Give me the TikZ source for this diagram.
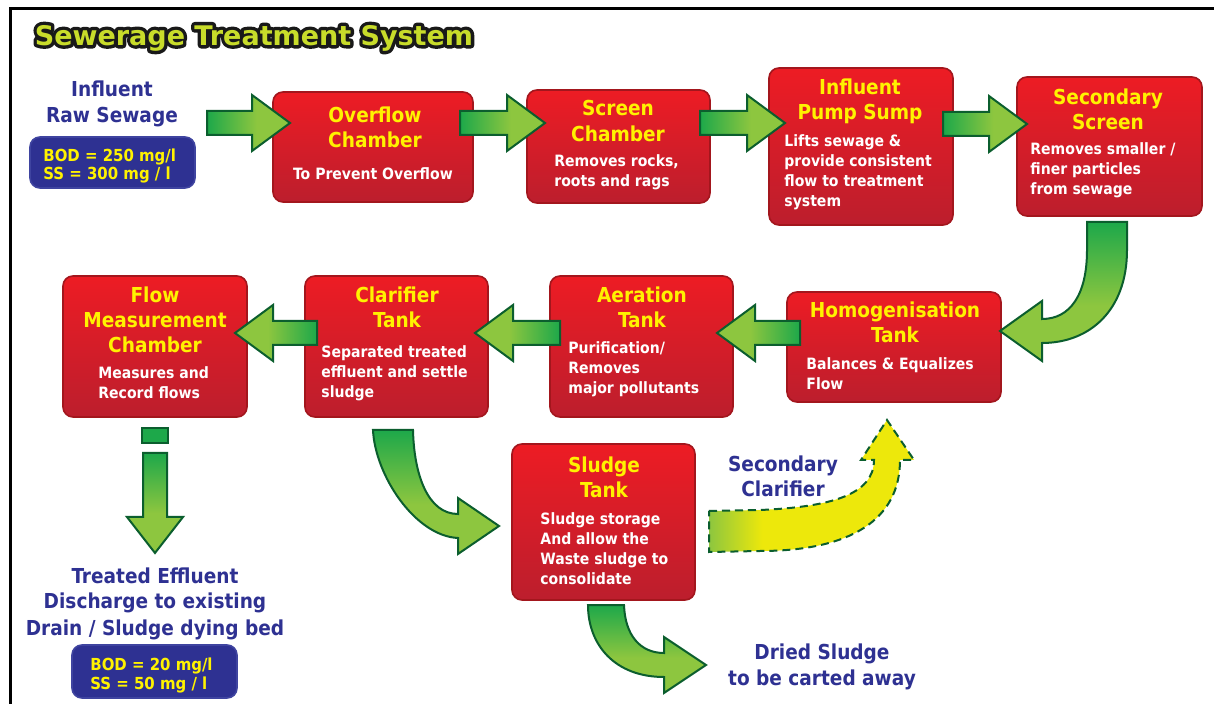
\documentclass[tikz,border=0pt]{standalone}
\usepackage{fontspec}
\setmainfont{DejaVu Sans Condensed}
\newfontfamily\ttlfont{DejaVu Sans}
\usetikzlibrary{fit}
\definecolor{boxtop}{HTML}{ED1C24}
\definecolor{boxbot}{HTML}{BC1E2D}
\definecolor{boxline}{HTML}{A3161D}
\definecolor{ttlyel}{HTML}{FFF200}
\definecolor{navy}{HTML}{2E3192}
\definecolor{navyline}{HTML}{3F44A0}
\definecolor{dg}{HTML}{1DA84A}
\definecolor{lg}{HTML}{8DC63F}
\definecolor{gline}{HTML}{0B5E2E}
\definecolor{yel}{HTML}{EDE80B}
\definecolor{titlegreen}{HTML}{C8DC2A}
\pgfdeclarehorizontalshading{garR}{100bp}{color(0bp)=(dg); color(25bp)=(dg); color(55bp)=(lg); color(100bp)=(lg)}
\pgfdeclarehorizontalshading{garL}{100bp}{color(0bp)=(lg); color(45bp)=(lg); color(75bp)=(dg); color(100bp)=(dg)}
\pgfdeclareverticalshading{garD}{100bp}{color(0bp)=(lg); color(45bp)=(lg); color(75bp)=(dg); color(100bp)=(dg)}
\pgfdeclarehorizontalshading{gyel}{100bp}{color(0bp)=(lg); color(25bp)=(lg); color(38bp)=(yel); color(100bp)=(yel)}
\newcommand\mlines[6]{\foreach \ln [count=\i from 0] in {#6} {\node[#2, name=#1\i] at (#3,{#4+\i*#5}) {\ln};}}
\newcommand\rarr[3]{\path[garrow, shading=garR] ({#1},{#3-12}) -- ({#2-38},{#3-12}) -- ({#2-38},{#3-28}) -- ({#2},{#3}) -- ({#2-38},{#3+28}) -- ({#2-38},{#3+12}) -- ({#1},{#3+12}) -- cycle;}
\newcommand\larr[3]{\path[garrow, shading=garL] ({#1},{#3-12}) -- ({#2+38},{#3-12}) -- ({#2+38},{#3-28}) -- ({#2},{#3}) -- ({#2+38},{#3+28}) -- ({#2+38},{#3+12}) -- ({#1},{#3+12}) -- cycle;}
\newcommand\strokedtext[2]{\special{pdf:literal direct 1 Tr #1 w 1 j 0.1 0.1 0.1 RG}#2\special{pdf:literal direct 0 Tr}}
\begin{document}
\begin{tikzpicture}[x=0.5pt,y=-0.5pt,
  font=\bfseries,
  rbox/.style={draw=boxline, line width=0.8pt, rounded corners=5pt, top color=boxtop, bottom color=boxbot, inner sep=0pt},
  bbox/.style={draw=navyline, line width=0.8pt, rounded corners=5pt, fill=navy, inner sep=0pt},
  ttl/.style={font=\bfseries\fontsize{10.3}{12}\selectfont, text=ttlyel, inner sep=0pt, anchor=base},
  desc/.style={font=\bfseries\fontsize{7.8}{9}\selectfont, text=white, inner sep=0pt, anchor=base west},
  descc/.style={desc, anchor=base},
  lbl/.style={font=\bfseries\fontsize{10.3}{12}\selectfont, text=navy, inner sep=0pt, anchor=base},
  bxt/.style={font=\bfseries\fontsize{8.3}{9}\selectfont, text=ttlyel, inner sep=0pt, anchor=base west},
  ttlbig/.style={font=\ttlfont\bfseries\fontsize{13.5}{15}\selectfont, inner sep=0pt, anchor=center},
  garrow/.style={shade, draw=gline, line width=1pt, line join=miter},
]
\useasboundingbox (0,0) rectangle (1214,704);
\fill[white] (0,0) rectangle (1214,704);
\draw[line width=1.5pt] (10,704) -- (10,8.5) -- (1214,8.5);

% title
\node[ttlbig, text=titlegreen] (title) at (254,38) {\rlap{\strokedtext{3.4}{Sewerage Treatment System}}Sewerage Treatment System};

% boxes
\node[rbox, fit={(273,92) (473,202)}] (ov) {};
\node[rbox, fit={(527,90) (710,203)}] (sc) {};
\node[rbox, fit={(769,68) (953,225)}] (ps) {};
\node[rbox, fit={(1017,77) (1202,216)}] (ss) {};
\node[rbox, fit={(63,276) (247,417)}] (fm) {};
\node[rbox, fit={(305,276) (488,417)}] (cl) {};
\node[rbox, fit={(550,276) (733,417)}] (ae) {};
\node[rbox, fit={(787,292) (1001,402)}] (ho) {};
\node[rbox, fit={(512,444) (695,600)}] (sl) {};
\node[bbox, fit={(30,137) (195,188)}] (bin) {};
\node[bbox, fit={(72,645) (237,698)}] (bout) {};

% straight arrows
\rarr{207}{290}{123}
\rarr{460}{545}{123}
\rarr{700}{785}{123}
\rarr{943}{1027}{124}
\larr{800}{717}{333}
\larr{560}{475}{333}
\larr{317}{235}{333}
\path[draw=gline, line width=1pt, fill=dg] (142,428) rectangle (168,443);
\path[garrow, shading=garD] (143,453) -- (167,453) -- (167,517) -- (183,517) -- (155,553) -- (127,517) -- (143,517) -- cycle;

% curved arrows
\path[garrow, shading=garD] (1087,222) -- (1127,222) -- (1127,250) .. controls (1127,310) and (1090,343) .. (1042,343) -- (1042,361) -- (1000,331) -- (1042,301) -- (1042,319) .. controls (1070,319) and (1087,295) .. (1087,250) -- cycle;
\path[garrow, shading=garD] (373,430) -- (413,430) .. controls (414,475) and (428,514) .. (458,514) -- (458,498) -- (499,526) -- (458,554) -- (458,538) .. controls (415,536) and (375,475) .. (373,430) -- cycle;
\path[garrow, shading=garD] (588,605) -- (624,605) .. controls (625,635) and (640,653) .. (664,653) -- (664,637) -- (706,665) -- (664,693) -- (664,677) .. controls (615,677) and (588,645) .. (588,605) -- cycle;
\path[shade, shading=gyel, draw=gline, line width=1pt, dash pattern=on 4pt off 2.5pt] (709,511) -- (760,510) .. controls (830,507) and (874,495) .. (874,460) -- (861,460) -- (887,420) -- (914,460) -- (900,460) .. controls (900,520) and (850,551) .. (760,551) -- (709,552) -- cycle;

% box texts
\mlines{ovt}{ttl}{375}{123}{25}{Overflow,Chamber}
\node[descc] (ovd) at (373,180) {To Prevent Overflow};
\mlines{sct}{ttl}{618}{116}{26}{Screen,Chamber}
\mlines{scd}{desc}{554}{167}{20}{{Removes rocks,},roots and rags}
\mlines{pst}{ttl}{860}{95}{25}{Influent,Pump Sump}
\mlines{psd}{desc}{784}{147}{20}{Lifts sewage \&,provide consistent,flow to treatment,system}
\mlines{sst}{ttl}{1108}{105}{25}{Secondary,Screen}
\mlines{ssd}{desc}{1030}{155}{20}{Removes smaller /,finer particles,from sewage}
\mlines{fmt}{ttl}{155}{303}{25}{Flow,Measurement,Chamber}
\mlines{fmd}{desc}{98}{379}{20}{Measures and,Record flows}
\mlines{clt}{ttl}{397}{303}{25}{Clarifier,Tank}
\mlines{cld}{desc}{321}{358}{20}{Separated treated,effluent and settle,sludge}
\mlines{aet}{ttl}{642}{303}{25}{Aeration,Tank}
\mlines{aed}{desc}{568}{354}{20}{Purification/,Removes,major pollutants}
\mlines{hot}{ttl}{895}{318}{25}{Homogenisation,Tank}
\mlines{hod}{desc}{806}{370}{20}{Balances \& Equalizes,Flow}
\mlines{slt}{ttl}{604}{473}{25}{Sludge,Tank}
\mlines{sld}{desc}{540}{525}{20}{Sludge storage,And allow the,Waste sludge to,consolidate}

% labels
\mlines{inl}{lbl}{112}{97}{26}{Influent,Raw Sewage}
\mlines{inb}{bxt}{43}{162}{18}{BOD = 250 mg/l,SS = 300 mg / l}
\mlines{tel}{lbl}{155}{583}{26}{Treated Effluent,Discharge to existing,Drain / Sludge dying bed}
\mlines{teb}{bxt}{90}{670}{19}{BOD = 20 mg/l,SS = 50 mg / l}
\mlines{scl}{lbl}{783}{472}{25}{Secondary,Clarifier}
\mlines{drl}{lbl}{822}{659}{26}{Dried Sludge,to be carted away}
\end{tikzpicture}
\end{document}
